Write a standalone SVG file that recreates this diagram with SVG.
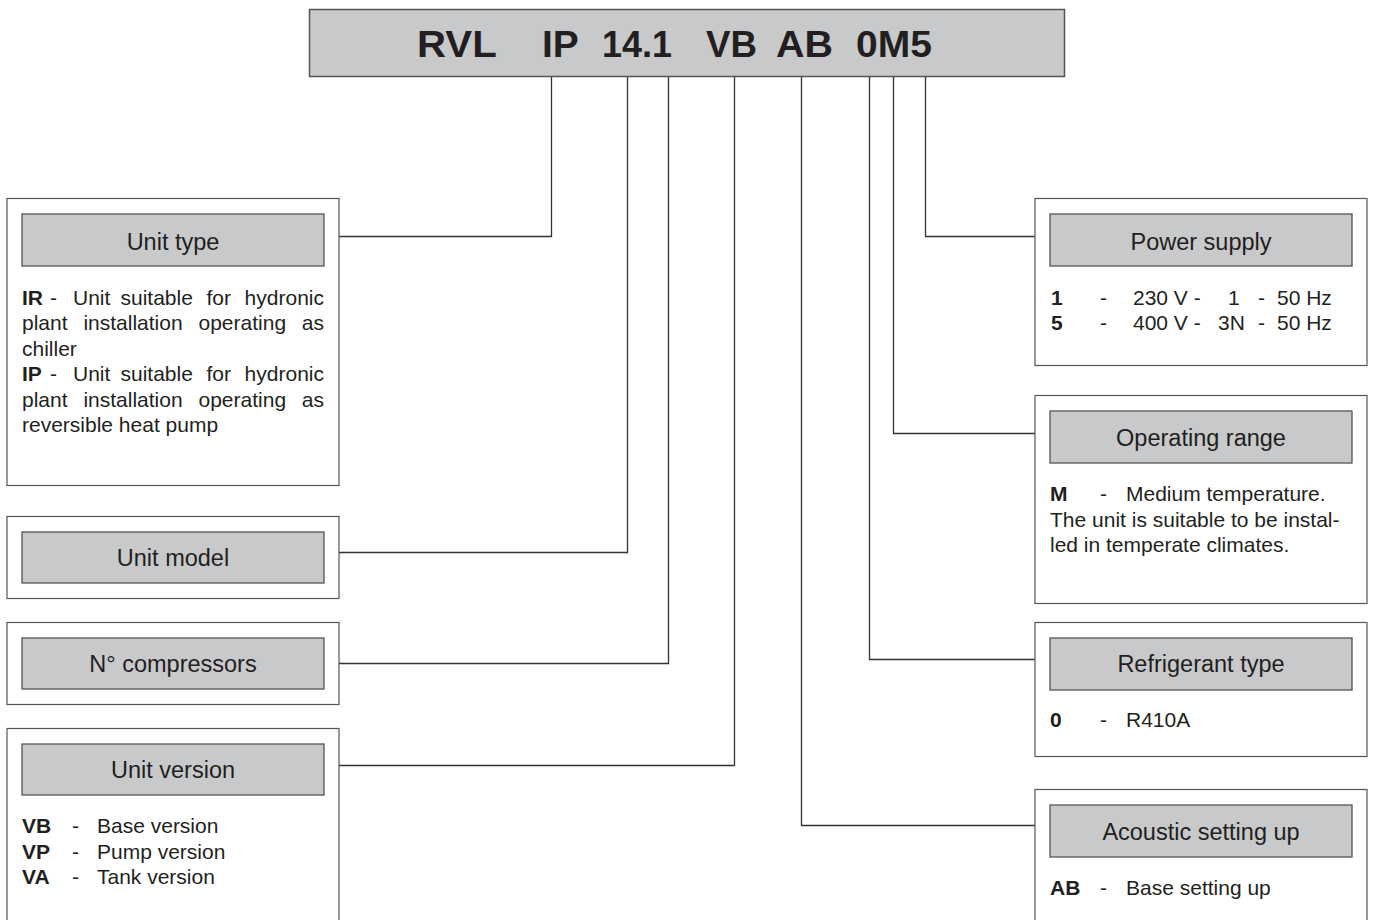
<svg xmlns="http://www.w3.org/2000/svg" width="1373" height="920" viewBox="0 0 1373 920">
<style>
.outer{fill:#fff;stroke:#555;stroke-width:1.2}
.hdr{fill:#c8c9cb;stroke:#555;stroke-width:1.3}
.ttl{font-family:"Liberation Sans",Arial,sans-serif;font-size:23.5px;fill:#231f20;text-anchor:middle}
.bd{font-family:"Liberation Sans",Arial,sans-serif;font-size:21px;fill:#231f20}
.b{font-weight:bold}
.code{font-family:"Liberation Sans",Arial,sans-serif;font-size:36px;font-weight:bold;fill:#231f20}
.conn{fill:none;stroke:#333;stroke-width:1.3}
</style>
<rect width="1373" height="920" fill="#fff"/>
<g id="code">
<rect x="309.5" y="9.5" width="755" height="67" fill="#c8c9cb" stroke="#555" stroke-width="1.5"/>
<text class="code" y="57">
<tspan x="417" textLength="79" lengthAdjust="spacingAndGlyphs">RVL</tspan>
<tspan x="542" textLength="36" lengthAdjust="spacingAndGlyphs">IP</tspan>
<tspan x="602" textLength="70" lengthAdjust="spacingAndGlyphs">14.1</tspan>
<tspan x="706" textLength="51" lengthAdjust="spacingAndGlyphs">VB</tspan>
<tspan x="776" textLength="57" lengthAdjust="spacingAndGlyphs">AB</tspan>
<tspan x="856" textLength="76" lengthAdjust="spacingAndGlyphs">0M5</tspan>
</text>
</g>
<g id="connectors">
<polyline class="conn" points="551.5,77 551.5,236.5 339,236.5"/>
<polyline class="conn" points="627.5,77 627.5,552.5 339,552.5"/>
<polyline class="conn" points="668.5,77 668.5,663.5 339,663.5"/>
<polyline class="conn" points="734.5,77 734.5,765.5 339,765.5"/>
<polyline class="conn" points="801.5,77 801.5,825.5 1035,825.5"/>
<polyline class="conn" points="869.5,77 869.5,659.5 1035,659.5"/>
<polyline class="conn" points="893.5,77 893.5,433.5 1035,433.5"/>
<polyline class="conn" points="925.5,77 925.5,236.5 1035,236.5"/>
</g>
<g id="unit-type">
<rect class="outer" x="7" y="198.5" width="332" height="287"/>
<rect class="hdr" x="22" y="214" width="302" height="52"/>
<text class="ttl" x="173" y="249.5">Unit type</text>
<text class="bd" y="305"><tspan x="22" class="b">IR</tspan><tspan x="50">-</tspan><tspan x="73">Unit</tspan><tspan x="120.5">suitable</tspan><tspan x="206.5">for</tspan><tspan x="324" text-anchor="end">hydronic</tspan></text>
<text class="bd" y="330.4"><tspan x="22">plant</tspan><tspan x="83.4">installation</tspan><tspan x="198.5">operating</tspan><tspan x="324" text-anchor="end">as</tspan></text>
<text class="bd" x="22" y="355.8">chiller</text>
<text class="bd" y="381.2"><tspan x="22" class="b">IP</tspan><tspan x="50">-</tspan><tspan x="73">Unit</tspan><tspan x="120.5">suitable</tspan><tspan x="206.5">for</tspan><tspan x="324" text-anchor="end">hydronic</tspan></text>
<text class="bd" y="406.6"><tspan x="22">plant</tspan><tspan x="83.4">installation</tspan><tspan x="198.5">operating</tspan><tspan x="324" text-anchor="end">as</tspan></text>
<text class="bd" x="22" y="432">reversible heat pump</text>
</g>
<g id="unit-model">
<rect class="outer" x="7" y="516.5" width="332" height="82"/>
<rect class="hdr" x="22" y="532" width="302" height="51"/>
<text class="ttl" x="173" y="565.5">Unit model</text>
</g>
<g id="compressors">
<rect class="outer" x="7" y="622.5" width="332" height="82"/>
<rect class="hdr" x="22" y="638" width="302" height="51"/>
<text class="ttl" x="173" y="671.5">N° compressors</text>
</g>
<g id="unit-version">
<rect class="outer" x="7" y="728.5" width="332" height="200"/>
<rect class="hdr" x="22" y="744" width="302" height="51"/>
<text class="ttl" x="173" y="777.5">Unit version</text>
<text class="bd" y="833"><tspan x="22" class="b">VB</tspan><tspan x="72">-</tspan><tspan x="97">Base version</tspan></text>
<text class="bd" y="859"><tspan x="22" class="b">VP</tspan><tspan x="72">-</tspan><tspan x="97">Pump version</tspan></text>
<text class="bd" y="884"><tspan x="22" class="b">VA</tspan><tspan x="72">-</tspan><tspan x="97">Tank version</tspan></text>
</g>
<g id="power-supply">
<rect class="outer" x="1035" y="198.5" width="332" height="167"/>
<rect class="hdr" x="1050" y="214" width="302" height="52"/>
<text class="ttl" x="1201" y="249.5">Power supply</text>
<text class="bd" y="305"><tspan x="1051" class="b">1</tspan><tspan x="1100">-</tspan><tspan x="1133">230 V -</tspan><tspan x="1228">1</tspan><tspan x="1258">-</tspan><tspan x="1277">50 Hz</tspan></text>
<text class="bd" y="330"><tspan x="1051" class="b">5</tspan><tspan x="1100">-</tspan><tspan x="1133">400 V -</tspan><tspan x="1218">3N</tspan><tspan x="1258">-</tspan><tspan x="1277">50 Hz</tspan></text>
</g>
<g id="operating-range">
<rect class="outer" x="1035" y="395.5" width="332" height="208"/>
<rect class="hdr" x="1050" y="411" width="302" height="52"/>
<text class="ttl" x="1201" y="445.5">Operating range</text>
<text class="bd" y="501"><tspan x="1050" class="b">M</tspan><tspan x="1100">-</tspan><tspan x="1126">Medium temperature.</tspan></text>
<text class="bd" x="1050" y="527">The unit is suitable to be instal-</text>
<text class="bd" x="1050" y="552">led in temperate climates.</text>
</g>
<g id="refrigerant-type">
<rect class="outer" x="1035" y="622.5" width="332" height="134"/>
<rect class="hdr" x="1050" y="638" width="302" height="52"/>
<text class="ttl" x="1201" y="671.5">Refrigerant type</text>
<text class="bd" y="727"><tspan x="1050" class="b">0</tspan><tspan x="1100">-</tspan><tspan x="1126">R410A</tspan></text>
</g>
<g id="acoustic">
<rect class="outer" x="1035" y="789.5" width="332" height="140"/>
<rect class="hdr" x="1050" y="805" width="302" height="52"/>
<text class="ttl" x="1201" y="839.5">Acoustic setting up</text>
<text class="bd" y="895"><tspan x="1050" class="b">AB</tspan><tspan x="1100">-</tspan><tspan x="1126">Base setting up</tspan></text>
</g>
</svg>
